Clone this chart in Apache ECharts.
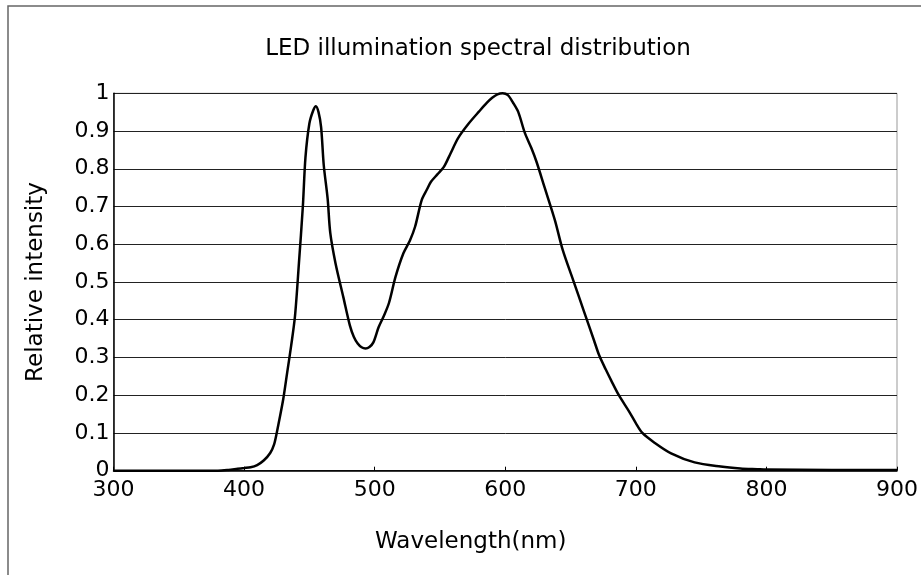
<!DOCTYPE html>
<html>
<head>
<meta charset="utf-8">
<title>LED illumination spectral distribution</title>
<script src="https://cdn.jsdelivr.net/npm/echarts@6/dist/echarts.min.js"></script>
<style>
  html, body { margin: 0; padding: 0; background: #fff; }
  #chart { width: 921px; height: 575px; }
</style>
</head>
<body>
<div id="chart"></div>
<script>
// Spectrum samples: wavelength (nm) and relative intensity
const wavelengths = [
  300, 350, 380, 388, 395, 400, 405, 410, 415, 420, 423, 425, 427, 430, 433, 436, 439,
  442, 445, 447, 450, 453, 455, 457, 459, 461, 464, 466, 470, 476, 481, 484, 487, 490,
  493, 496, 499, 503, 507, 511, 516, 522, 527, 531, 536, 540, 543, 548, 553, 558, 564,
  572, 580, 586, 590, 594, 598, 602, 606, 610, 615, 620, 624, 630, 638, 644, 652, 660,
  668, 672, 677, 681, 687, 695, 700, 705, 714, 727, 745, 765, 780, 793, 800, 850, 900
];
const intensity = [
  0, 0, 0, 0.002, 0.005, 0.007, 0.009, 0.015, 0.027, 0.047, 0.07, 0.1, 0.135, 0.19, 0.26, 0.33, 0.41,
  0.55, 0.70, 0.83, 0.92, 0.955, 0.966, 0.95, 0.91, 0.81, 0.72, 0.63, 0.55, 0.46, 0.385, 0.355, 0.337, 0.327,
  0.324, 0.328, 0.34, 0.38, 0.41, 0.445, 0.514, 0.576, 0.61, 0.647, 0.717, 0.745, 0.765, 0.785, 0.805, 0.84, 0.882,
  0.92, 0.952, 0.975, 0.988, 0.997, 1.0, 0.995, 0.975, 0.95, 0.895, 0.855, 0.818, 0.752, 0.664, 0.585, 0.505, 0.425,
  0.345, 0.305, 0.268, 0.24, 0.2, 0.156, 0.126, 0.1, 0.075, 0.046, 0.022, 0.011, 0.006, 0.004, 0.003, 0.002, 0.002
];
const xTicks = [300, 400, 500, 600, 700, 800, 900];
const yTicks = [0, 0.1, 0.2, 0.3, 0.4, 0.5, 0.6, 0.7, 0.8, 0.9, 1];

const FONT = 'DejaVu Sans';
const points = wavelengths.map((w, i) => [w, intensity[i]]);

const chart = echarts.init(document.getElementById('chart'), null, { renderer: 'canvas' });
chart.setOption({
  backgroundColor: '#fff',
  animation: false,
  title: {
    text: 'LED illumination spectral distribution',
    left: 473,
    top: 33,
    textAlign: 'center',
    textStyle: { fontFamily: FONT, fontSize: 23, fontWeight: 'normal', color: '#000' }
  },
  graphic: [
    {
      type: 'rect',
      shape: { x: 8, y: 6, width: 940, height: 600 },
      style: { fill: 'none', stroke: '#666', lineWidth: 1.5 },
      silent: true
    }
  ],
  grid: { left: 113.5, right: 21, top: 93.3, bottom: 104.3, show: true, borderColor: '#999', borderWidth: 1, backgroundColor: 'transparent' },
  xAxis: {
    type: 'value',
    min: xTicks[0],
    max: xTicks[xTicks.length - 1],
    interval: 100,
    name: 'Wavelength(nm)',
    nameLocation: 'middle',
    nameGap: 60,
    nameTextStyle: { fontFamily: FONT, fontSize: 23, color: '#000', padding: [0, 69, 0, 0] },
    axisLine: { lineStyle: { color: '#000', width: 1.5 } },
    axisTick: { show: true, inside: true, length: 4, lineStyle: { color: '#000' } },
    axisLabel: { fontFamily: FONT, fontSize: 22, color: '#000', margin: 9 },
    splitLine: { show: false }
  },
  yAxis: {
    type: 'value',
    min: yTicks[0],
    max: yTicks[yTicks.length - 1],
    interval: 0.1,
    name: 'Relative intensity',
    nameLocation: 'middle',
    nameRotate: 90,
    nameGap: 66,
    nameTextStyle: { fontFamily: FONT, fontSize: 23, color: '#000' },
    axisLine: { show: true, lineStyle: { color: '#000', width: 1.5 } },
    axisTick: { show: false },
    axisLabel: { fontFamily: FONT, fontSize: 22, color: '#000', margin: 4 },
    splitLine: { show: true, lineStyle: { color: '#222', width: 1 } }
  },
  series: [
    {
      type: 'line',
      data: points,
      showSymbol: false,
      smooth: 0.3,
      lineStyle: { color: '#000', width: 2.5 },
      clip: true
    }
  ]
});
</script>
</body>
</html>
